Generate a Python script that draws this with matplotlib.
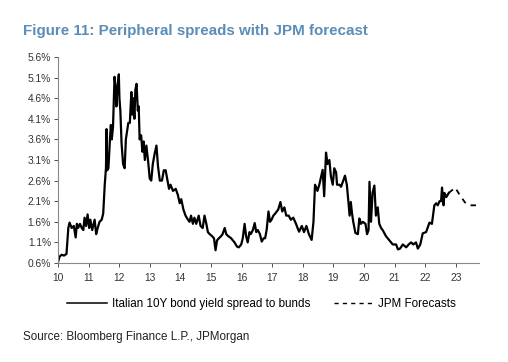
import matplotlib
matplotlib.use('Agg')
import matplotlib.pyplot as plt
from matplotlib.lines import Line2D

plt.rcParams['font.family'] = ['Liberation Sans', 'DejaVu Sans']

# Italian 10Y spread to bunds (year, % spread)
years = [10.0, 10.05, 10.12, 10.2, 10.28, 10.34, 10.38, 10.45, 10.52, 10.58, 10.62, 10.66, 10.72,
         10.78, 10.83, 10.87, 10.92, 10.97, 11.02, 11.06, 11.12, 11.2, 11.25, 11.3, 11.36, 11.43,
         11.48, 11.53, 11.57, 11.59, 11.61, 11.65, 11.7, 11.73, 11.76, 11.8, 11.85, 11.88, 11.91,
         11.94, 11.99, 12.01, 12.04, 12.08, 12.13, 12.18, 12.22, 12.3, 12.35, 12.4, 12.43, 12.46,
         12.5, 12.53, 12.57, 12.61, 12.64, 12.67, 12.72, 12.76, 12.8, 12.84, 12.89, 12.95, 13.0,
         13.05, 13.1, 13.16, 13.22, 13.27, 13.33, 13.4, 13.46, 13.52, 13.58, 13.63, 13.68, 13.76,
         13.85, 13.92, 13.98, 14.03, 14.1, 14.17, 14.25, 14.3, 14.35, 14.41, 14.46, 14.52, 14.6,
         14.66, 14.73, 14.79, 14.85, 14.9, 14.96, 15.04, 15.1, 15.15, 15.2, 15.26, 15.33, 15.38,
         15.45, 15.5, 15.57, 15.66, 15.77, 15.85, 15.91, 15.99, 16.04, 16.1, 16.15, 16.2, 16.26,
         16.3, 16.37, 16.43, 16.48, 16.53, 16.6, 16.66, 16.72, 16.77, 16.82, 16.88, 16.93, 16.98,
         17.04, 17.1, 17.15, 17.2, 17.27, 17.33, 17.4, 17.46, 17.54, 17.61, 17.69, 17.78, 17.83,
         17.88, 17.97, 18.04, 18.12, 18.2, 18.29, 18.35, 18.4, 18.43, 18.48, 18.54, 18.6, 18.65,
         18.7, 18.76, 18.81, 18.87, 18.92, 18.98, 19.03, 19.09, 19.12, 19.2, 19.25, 19.3, 19.38,
         19.44, 19.49, 19.53, 19.57, 19.61, 19.65, 19.72, 19.8, 19.85, 19.9, 19.96, 20.05, 20.1,
         20.15, 20.18, 20.23, 20.28, 20.34, 20.39, 20.45, 20.5, 20.56, 20.61, 20.72, 20.83, 20.94,
         21.05, 21.11, 21.18, 21.27, 21.38, 21.46, 21.54, 21.61, 21.7, 21.76, 21.84, 21.92, 22.03,
         22.14, 22.22, 22.3, 22.36, 22.41, 22.47, 22.52, 22.55, 22.6, 22.63, 22.69, 22.77]
spread = [0.61, 0.75, 0.8, 0.78, 0.82, 1.45, 1.58, 1.45, 1.5, 1.22, 1.55, 1.45, 1.55,
          1.45, 1.4, 1.7, 1.5, 1.78, 1.45, 1.65, 1.4, 1.65, 1.3, 1.45, 1.6, 1.65,
          1.8, 2.5, 2.9, 3.85, 2.85, 2.9, 3.6, 3.95, 3.6, 3.9, 5.12, 4.9, 4.4,
          4.8, 5.18, 4.6, 4.3, 3.5, 3.0, 2.9, 3.6, 4.0, 4.0, 4.75, 4.2, 4.6,
          4.1, 4.8, 4.95, 4.3, 4.4, 3.6, 3.7, 3.3, 3.55, 3.1, 3.45, 3.05, 2.65,
          2.6, 3.0, 3.25, 3.45, 2.95, 2.6, 2.6, 2.85, 2.85, 2.6, 2.4, 2.5, 2.35,
          2.4, 2.25, 2.05, 2.15, 1.9, 1.75, 1.65, 1.6, 1.75, 1.55, 1.7, 1.55, 1.75,
          1.5, 1.45, 1.75, 1.55, 1.35, 1.3, 1.25, 1.2, 0.91, 1.15, 1.2, 1.25, 1.3,
          1.45, 1.3, 1.25, 1.2, 1.1, 1.0, 0.98, 1.05, 1.2, 1.55, 1.25, 1.1, 1.35,
          1.3, 1.4, 1.57, 1.35, 1.4, 1.3, 1.12, 1.2, 1.2, 1.4, 1.85, 1.6, 1.65,
          1.75, 1.8, 1.85, 1.9, 2.08, 1.85, 1.95, 1.75, 1.75, 1.65, 1.7, 1.55, 1.45,
          1.36, 1.5, 1.35, 1.5, 1.3, 1.16, 1.6, 2.5, 2.45, 2.35, 2.5, 2.7, 2.86,
          2.22, 3.28, 3.0, 3.1, 2.7, 2.5, 2.9, 2.8, 2.5, 2.5, 2.45, 2.55, 2.72,
          2.5, 2.1, 1.75, 2.08, 1.8, 1.6, 1.33, 1.3, 1.68, 1.55, 1.6, 1.55, 1.3,
          1.4, 2.57, 1.6, 2.3, 2.48, 1.75, 1.95, 1.55, 1.45, 1.4, 1.25, 1.15, 1.05,
          1.05, 0.93, 0.95, 1.05, 0.98, 1.05, 1.1, 1.05, 1.1, 0.95, 1.05, 1.32, 1.35,
          1.58, 1.55, 2.0, 2.05, 2.0, 2.1, 2.1, 2.43, 2.0, 2.3, 2.2, 2.3]

# JPM forecast path
fc_years = [22.77, 22.98, 23.13, 23.3, 23.46, 23.73]
fc_spread = [2.3, 2.43, 2.25, 2.07, 2.0, 2.0]

yticks = [0.6, 1.1, 1.6, 2.1, 2.6, 3.1, 3.6, 4.1, 4.6, 5.1, 5.6]
xticks = list(range(10, 24))

fig = plt.figure(figsize=(5.08, 3.62), dpi=100)
ax = fig.add_axes([0.114, 0.2735, 0.829, 0.569])

ax.plot(years, spread, color='black', lw=1.6)
ax.plot(fc_years, fc_spread, color='black', lw=1.3, ls=(0, (3, 3)))

ax.set_xlim(10, 23.76)
ax.set_ylim(0.6, 5.6)
ax.set_yticks(yticks)
ax.set_yticklabels([f'{v:.1f}%' for v in yticks])
ax.set_xticks(xticks)
ax.set_xticklabels([str(t) for t in xticks])
ax.tick_params(labelsize=7.4, colors='#333333', length=3, width=0.6)
ax.tick_params(axis='y', pad=2)
ax.tick_params(axis='x', pad=4)
for s in ['top', 'right']:
    ax.spines[s].set_visible(False)
for s in ['left', 'bottom']:
    ax.spines[s].set_color('#888888')
    ax.spines[s].set_linewidth(0.8)

fig.text(0.045, 0.915, 'Figure 11: Peripheral spreads with JPM forecast', fontsize=10.9,
         fontweight='bold', color='#5B8DB8', va='center')

handles = [Line2D([], [], color='black', lw=1.1),
           Line2D([], [], color='black', lw=1.0, ls=(0, (3, 3)))]
fig.legend(handles, ['Italian 10Y bond yield spread to bunds', 'JPM Forecasts'],
           loc='center', bbox_to_anchor=(0.515, 0.16), ncol=2, frameon=False,
           fontsize=8.4, handlelength=3.4, columnspacing=2.0, handletextpad=0.4)

fig.text(0.045, 0.068, 'Source: Bloomberg Finance L.P., JPMorgan', fontsize=8.4,
         color='#222222', va='center')

fig.savefig('out.png', dpi=100)
